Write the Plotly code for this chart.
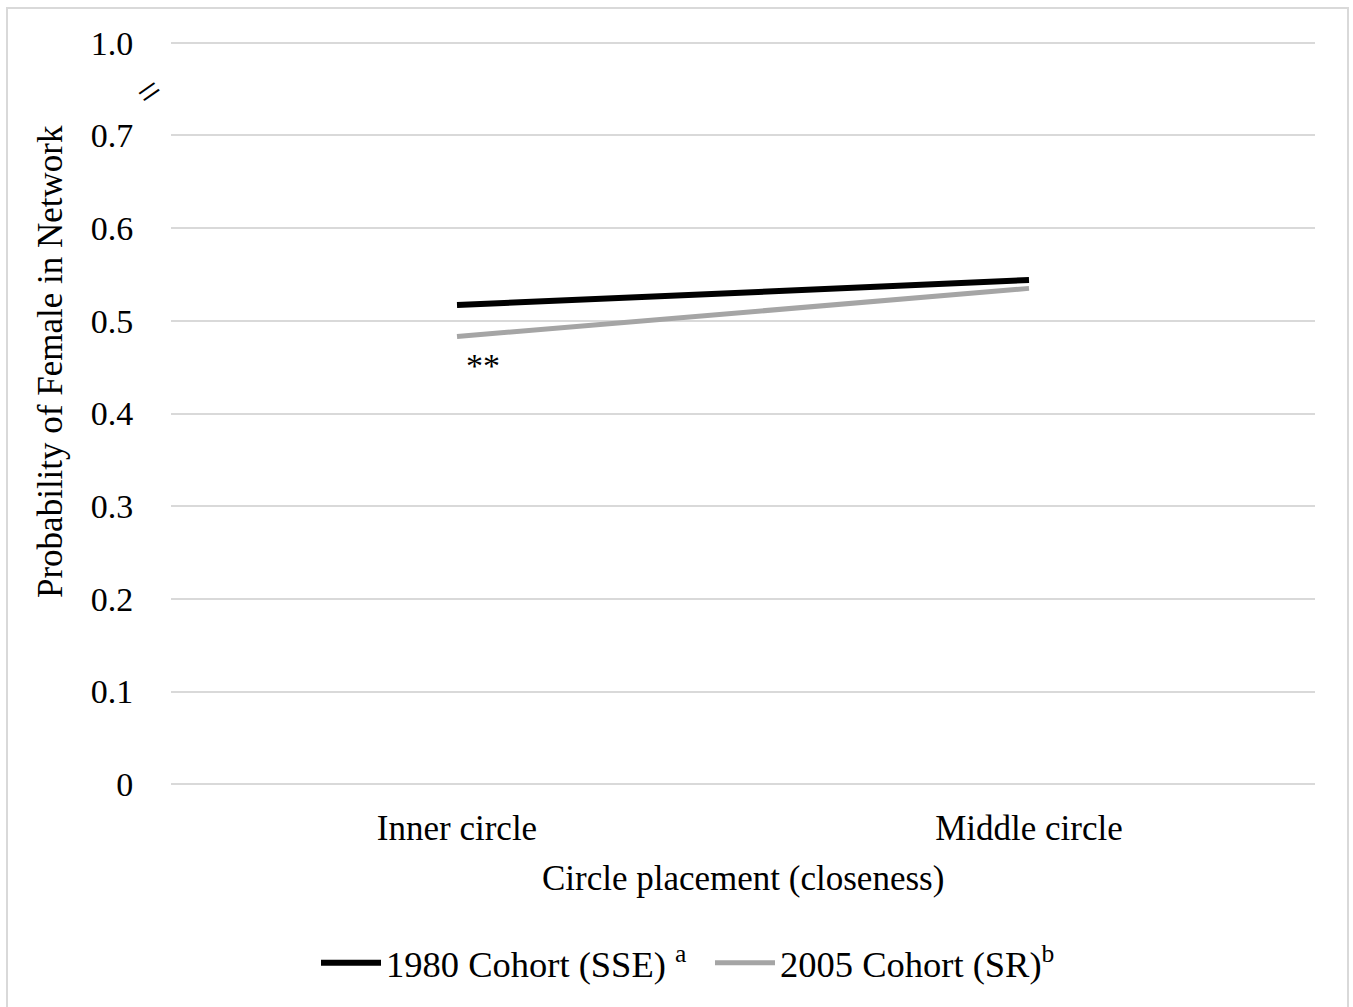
import plotly.graph_objects as go

categories = ["Inner circle", "Middle circle"]
cohort_1980 = [0.517, 0.544]
cohort_2005 = [0.483, 0.535]
series_names = ["1980 Cohort (SSE) <sup>a</sup>", "2005 Cohort (SR)<sup>b</sup>"]
y_tickvals = [0, 0.1, 0.2, 0.3, 0.4, 0.5, 0.6, 0.7, 0.8]
y_ticktext = ["0", "0.1", "0.2", "0.3", "0.4", "0.5", "0.6", "0.7", "1.0"]
sig_label = "**"
sig_y = 0.452

FONT = "Liberation Serif, Times New Roman, serif"

# plot area geometry (pixels): y=0 at 784, y=0.8 at 43
T, B = 40, 220
H = 1007 - T - B
def py(pix):
    return (1007 - B - pix) / H
def px(pix):
    return (pix - 171) / 1144

fig = go.Figure()
fig.add_trace(go.Scatter(x=categories, y=cohort_1980, mode="lines", name=series_names[0],
                         line=dict(color="#000000", width=6)))
fig.add_trace(go.Scatter(x=categories, y=cohort_2005, mode="lines", name=series_names[1],
                         line=dict(color="#a5a5a5", width=5)))

fig.update_layout(
    width=1353, height=1007,
    margin=dict(l=171, r=38, t=T, b=B),
    paper_bgcolor="white", plot_bgcolor="white",
    font=dict(family=FONT, size=35, color="#000000"),
    showlegend=True,
    legend=dict(orientation="h", x=px(316), xanchor="left", y=py(963), yanchor="middle",
                font=dict(size=36.5), itemwidth=60, traceorder="normal",
                entrywidth=319, entrywidthmode="pixels",
                bgcolor="rgba(0,0,0,0)"),
    xaxis=dict(type="category", range=[-0.5, 1.5], showgrid=False, zeroline=False,
               showline=False, ticks="outside", ticklen=10, tickcolor="rgba(0,0,0,0)",
               tickfont=dict(size=35)),
    yaxis=dict(range=[-0.003, 0.803], tickvals=y_tickvals, ticktext=y_ticktext,
               showgrid=True, gridcolor="#d9d9d9", gridwidth=2, zeroline=False,
               showline=False, ticks="outside", ticklen=30, tickcolor="rgba(0,0,0,0)",
               tickfont=dict(size=34)),
    shapes=[dict(type="rect", xref="paper", yref="paper",
                 x0=px(7), x1=px(1348), y0=py(1020), y1=py(8),
                 line=dict(color="#d9d9d9", width=2), fillcolor="rgba(0,0,0,0)", layer="below")],
    annotations=[
        dict(text="Probability of Female in Network", textangle=-90, xref="paper", yref="paper",
             x=px(50), y=py(362), xanchor="center", yanchor="middle",
             showarrow=False, font=dict(size=35)),
        dict(text="Circle placement (closeness)", xref="paper", yref="paper",
             x=px(743), y=py(878), xanchor="center", yanchor="middle",
             showarrow=False, font=dict(size=35)),
        dict(text=sig_label, xref="x", yref="y", x=0, y=sig_y, xshift=26,
             xanchor="center", yanchor="middle", showarrow=False, font=dict(size=34)),
        dict(text="=", xref="paper", yref="paper", x=px(149), y=py(92),
             textangle=-35, xanchor="center", yanchor="middle", showarrow=False,
             font=dict(size=40)),
    ],
)

fig.write_html("out.html", config={"displayModeBar": False},
               post_script="document.body.style.margin='0';document.body.style.overflow='hidden';")
